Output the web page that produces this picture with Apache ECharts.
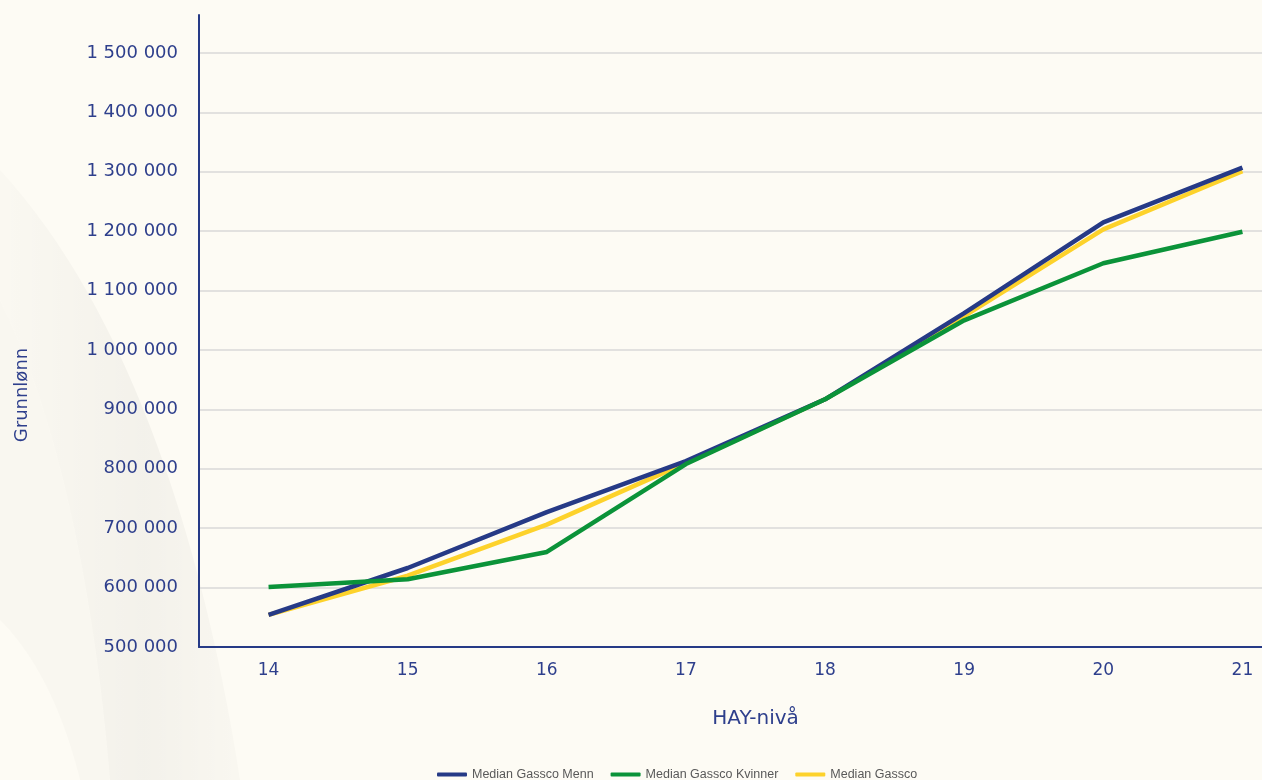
<!DOCTYPE html>
<html>
<head>
<meta charset="utf-8">
<script src="https://cdn.jsdelivr.net/npm/echarts@6/dist/echarts.min.js"></script>
<style>
html,body{margin:0;padding:0;background:#fdfbf4;overflow:hidden;width:1262px;height:780px;}
#chart{width:1312px;height:780px;}
</style>
</head>
<body>
<div id="chart"></div>
<script>
const categories = ['14','15','16','17','18','19','20','21'];
const medianMenn = [554000, 633000, 727000, 813000, 917000, 1062000, 1215000, 1307000];
const medianKvinner = [601000, 614000, 660000, 808000, 917000, 1050000, 1146000, 1199000];
const medianGassco = [554000, 620000, 706000, 810000, 917000, 1057000, 1203000, 1301000];
const seriesNames = ['Median Gassco Menn', 'Median Gassco Kvinner', 'Median Gassco'];
const yName = 'Grunnlønn';
const xName = 'HAY-nivå';

const navy = '#263a86';
const green = '#0b9339';
const yellow = '#fdd22b';
const axisText = '#2e3f8c';

function fmt(v){
  return String(v).replace(/\B(?=(\d{3})+(?!\d))/g, ' ');
}

// decorative background swoosh (cubic bezier sampling)
function bez(p0,p1,p2,p3,n){
  const out=[];
  for(let i=0;i<=n;i++){
    const t=i/n, u=1-t;
    out.push([
      u*u*u*p0[0]+3*u*u*t*p1[0]+3*u*t*t*p2[0]+t*t*t*p3[0],
      u*u*u*p0[1]+3*u*u*t*p1[1]+3*u*t*t*p2[1]+t*t*t*p3[1]
    ]);
  }
  return out;
}
const outerCurve = bez([0,170],[120,300],[200,520],[240,780],30);
const innerCurve = bez([0,300],[60,420],[95,600],[110,780],30);
const edgeCurve = bez([0,620],[30,650],[60,700],[80,780],20);
const band1 = outerCurve.concat(innerCurve.slice().reverse());
const band2 = innerCurve.concat(edgeCurve.slice().reverse());

const chart = echarts.init(document.getElementById('chart'));
chart.setOption({
  backgroundColor: '#fdfbf4',
  animation: false,
  graphic: [
    {
      type: 'polygon', z: -10, silent: true,
      shape: { points: band1 },
      style: { fill: { type: 'linear', x: 0, y: 0, x2: 1, y2: 0, colorStops: [{offset:0,color:'rgba(0,0,0,0.01)'},{offset:0.6,color:'rgba(0,0,0,0.04)'},{offset:1,color:'rgba(0,0,0,0.015)'}] } }
    },
    {
      type: 'polygon', z: -10, silent: true,
      shape: { points: band2 },
      style: { fill: 'rgba(0,0,0,0.015)' }
    }
  ],
  grid: { left: 199, right: 0, top: 15, bottom: 133, containLabel: false },
  legend: {
    left: 432, top: 763,
    itemGap: 17, itemWidth: 30, itemHeight: 4,
    icon: 'roundRect',
    data: seriesNames,
    textStyle: { fontFamily: 'Liberation Sans Narrow, Liberation Sans, sans-serif', fontSize: 12.5, color: '#595959' }
  },
  xAxis: {
    type: 'category',
    data: categories,
    boundaryGap: true,
    name: xName,
    nameLocation: 'middle',
    nameGap: 62,
    nameTextStyle: { fontFamily: 'DejaVu Sans', fontSize: 20, color: axisText },
    axisLine: { lineStyle: { color: navy, width: 2 } },
    axisTick: { show: false },
    axisLabel: { fontFamily: 'DejaVu Sans', fontSize: 17, color: axisText, margin: 15 },
    splitLine: { show: false }
  },
  yAxis: {
    type: 'value',
    min: 500000, max: 1564000, interval: 100000,
    name: yName,
    nameLocation: 'middle',
    nameGap: 168,
    nameRotate: 90,
    nameTextStyle: { fontFamily: 'DejaVu Sans', fontSize: 18, color: axisText, padding: [0,128,0,0] },
    axisLine: { show: true, lineStyle: { color: navy, width: 2 } },
    axisTick: { show: false },
    axisLabel: { fontFamily: 'DejaVu Sans', fontSize: 18, color: axisText, margin: 21, showMaxLabel: false, formatter: fmt },
    splitLine: { show: true, showMaxLine: false, showMinLine: false, lineStyle: { color: '#d9d9d9', width: 1.5 } }
  },
  series: [
    { name: seriesNames[2], type: 'line', data: medianGassco, symbol: 'none', z: 2,
      lineStyle: { color: yellow, width: 4.5 }, itemStyle: { color: yellow } },
    { name: seriesNames[0], type: 'line', data: medianMenn, symbol: 'none', z: 3,
      lineStyle: { color: navy, width: 4.5 }, itemStyle: { color: navy } },
    { name: seriesNames[1], type: 'line', data: medianKvinner, symbol: 'none', z: 4,
      lineStyle: { color: green, width: 4.5 }, itemStyle: { color: green } }
  ]
});
</script>
</body>
</html>
